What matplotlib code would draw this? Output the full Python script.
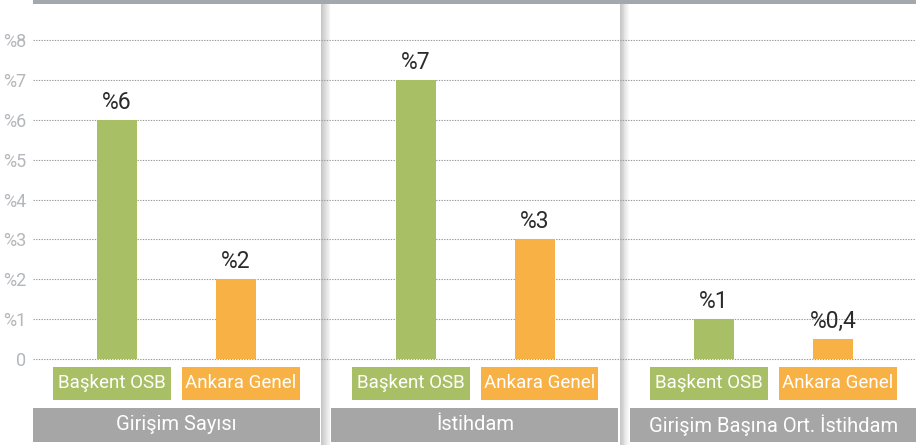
import matplotlib
matplotlib.use("Agg")
import matplotlib.pyplot as plt
from matplotlib.patches import Rectangle
import numpy as np

plt.rcParams['font.family'] = ['Roboto', 'DejaVu Sans']

# ---- data ----
groups = ["Girişim Sayısı", "İstihdam", "Girişim Başına Ort. İstihdam"]
series = ["Başkent OSB", "Ankara Genel"]
baskent = [6, 7, 1]
ankara = [2, 3, 0.5]
value_labels_baskent = ["%6", "%7", "%1"]
value_labels_ankara = ["%2", "%3", "%0,4"]
yticks = [0, 1, 2, 3, 4, 5, 6, 7, 8]
ytick_labels = ["0", "%1", "%2", "%3", "%4", "%5", "%6", "%7", "%8"]

GREEN = "#a9bf65"
ORANGE = "#f7b144"
GRAYBAR = "#a6a6a6"
TOPBAR = "#a3a8ac"
TICKCOL = "#b4b7bb"
VALCOL = "#2b2b2b"

W, H = 916, 445
fig = plt.figure(figsize=(W / 100, H / 100), dpi=100)
ax = fig.add_axes([33 / W, 0, (916 - 33) / W, (445 - 3) / H])

ax.set_xlim(-0.4807, 2.477)
ax.set_ylim(-2.157, 8.93)
for s in ax.spines.values():
    s.set_visible(False)

x = np.arange(len(groups))
off = 0.1993
bw = 0.134

# separators (shadow)
for i in range(len(groups) - 1):
    xs = i + 0.5
    for k in range(10):
        a = 0.7 * (1 - k / 10)
        ax.add_patch(Rectangle((xs - 0.0145 + k * 0.003, -2.157), 0.003, 8.93 + 2.157,
                               color="#b0b0b0", alpha=a, lw=0, zorder=0.5))

# gridlines
for t in yticks:
    ax.axhline(t, color="#9a9a9a", lw=0.8, ls=(0, (1.2, 1.2)), zorder=1)

ax.set_yticks(yticks)
ax.set_yticklabels(ytick_labels)
ax.tick_params(axis='y', length=0, pad=5, labelsize=13, labelcolor=TICKCOL)
ax.set_xticks([])

b1 = ax.bar(x - off, baskent, bw, color=GREEN, zorder=2)
b2 = ax.bar(x + off, ankara, bw, color=ORANGE, zorder=2)

for bars, labs in ((b1, value_labels_baskent), (b2, value_labels_ankara)):
    for rect, lab in zip(bars, labs):
        ax.annotate(lab, (rect.get_x() + rect.get_width() / 2, rect.get_height()),
                    xytext=(0, 4.5), textcoords="offset points", ha="center", va="bottom",
                    fontsize=16.5, color=VALCOL, fontweight="normal", zorder=3)

# series label boxes
boxw = 0.395
box_off = 0.216
for i in x:
    for sign, name, col in ((-1, series[0], GREEN), (1, series[1], ORANGE)):
        cx = i + sign * box_off
        ax.add_patch(Rectangle((cx - boxw / 2, -1.028), boxw, 0.828, color=col, lw=0,
                               clip_on=False, zorder=2))
        ax.text(cx, -0.614, name, ha="center", va="center", color="white",
                fontsize=13.5, zorder=3)
    # group title bar
    ax.add_patch(Rectangle((i - 0.482, -2.08), 0.962, 0.851, color=GRAYBAR, lw=0,
                           clip_on=False, zorder=2))
    ax.text(i, -1.655, groups[i], ha="center", va="center", color="white",
            fontsize=14.5, zorder=3)

# top bar
fig.add_artist(Rectangle((33 / W, 1 - 3.5 / H), (916 - 33) / W, 3.5 / H,
                         transform=fig.transFigure, color=TOPBAR, lw=0))

fig.savefig("out.png", dpi=100)
